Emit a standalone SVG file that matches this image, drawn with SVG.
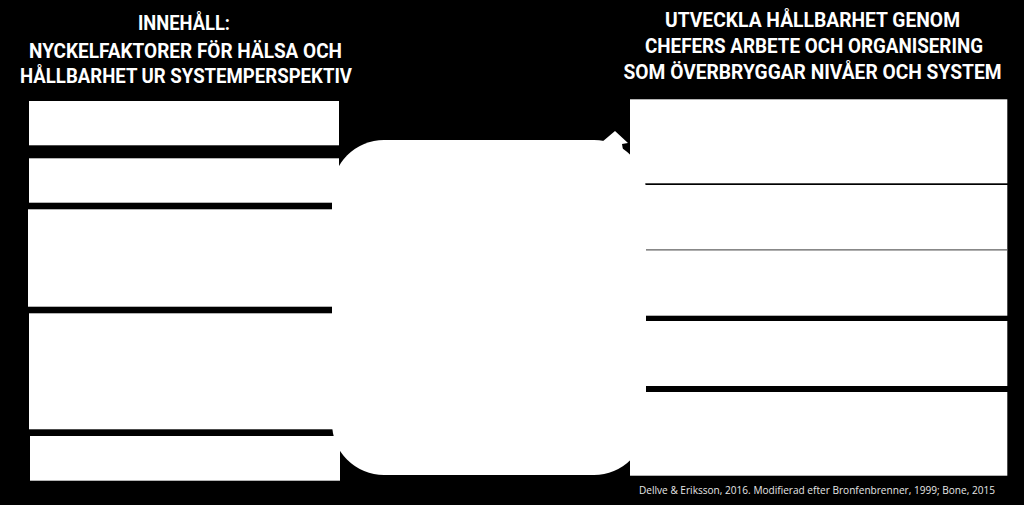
<svg xmlns="http://www.w3.org/2000/svg" width="1024" height="505" viewBox="0 0 1024 505">
  <style>
    .bg { fill: #000000; }
    .box { fill: #ffffff; }
    .head { font-family: Roboto, "Liberation Sans", Arial, sans-serif; font-weight: bold; font-size: 19.5px; fill: #ffffff; text-anchor: middle; }
    .foot { font-family: "Open Sans", "Liberation Sans", sans-serif; font-size: 10px; fill: #e6e6e6; }
    .sep { stroke: #606060; stroke-width: 1.3; }
  </style>
  <rect class="bg" x="0" y="0" width="1024" height="505"/>

  <g id="heading-left">
    <text class="head" x="184" y="30" textLength="92" lengthAdjust="spacingAndGlyphs">INNEHÅLL:</text>
    <text class="head" x="185.5" y="58" textLength="313" lengthAdjust="spacingAndGlyphs">NYCKELFAKTORER FÖR HÄLSA OCH</text>
    <text class="head" x="186" y="83.3" textLength="332" lengthAdjust="spacingAndGlyphs">HÅLLBARHET UR SYSTEMPERSPEKTIV</text>
  </g>

  <g id="heading-right">
    <text class="head" x="812.5" y="26.7" textLength="295" lengthAdjust="spacingAndGlyphs">UTVECKLA HÅLLBARHET GENOM</text>
    <text class="head" x="814" y="52.7" textLength="338" lengthAdjust="spacingAndGlyphs">CHEFERS ARBETE OCH ORGANISERING</text>
    <text class="head" x="812.5" y="79" textLength="378" lengthAdjust="spacingAndGlyphs">SOM ÖVERBRYGGAR NIVÅER OCH SYSTEM</text>
  </g>

  <g id="left-row-1"><rect class="box" x="29" y="101" width="310" height="44.3"/></g>
  <g id="left-row-2"><rect class="box" x="29" y="158.3" width="310" height="44.4"/></g>
  <g id="left-row-3"><rect class="box" x="28" y="209.3" width="311" height="97.4"/></g>
  <g id="left-row-4"><rect class="box" x="29" y="313.3" width="310" height="116"/></g>
  <g id="left-row-5"><rect class="box" x="30" y="436" width="310" height="44.7"/></g>

  <g id="right-row-1"><rect class="box" x="630" y="99.3" width="377.3" height="84"/></g>
  <g id="right-row-2"><rect class="box" x="630" y="185" width="377.3" height="65"/></g>
  <g id="right-row-3"><rect class="box" x="630" y="250" width="377.3" height="65.7"/></g>
  <g id="right-row-4"><rect class="box" x="630" y="321" width="377.3" height="65"/></g>
  <g id="right-row-5"><rect class="box" x="630" y="392" width="377.3" height="83.7"/></g>

  <g id="connectors">
    <line class="sep" x1="645" y1="249.8" x2="1007.3" y2="249.8"/>
  </g>

  <g id="middle">
    <rect class="box" x="332" y="140" width="314" height="335" rx="52" ry="52"/>
    <polygon class="box" points="602,142 615,131 628,143 622,144 623,150 630,156 630,170 600,170"/>
  </g>

  <g id="footer">
    <text class="foot" x="639" y="494" textLength="356" lengthAdjust="spacingAndGlyphs">Dellve &amp; Eriksson, 2016. Modifierad efter Bronfenbrenner, 1999; Bone, 2015</text>
  </g>
</svg>
